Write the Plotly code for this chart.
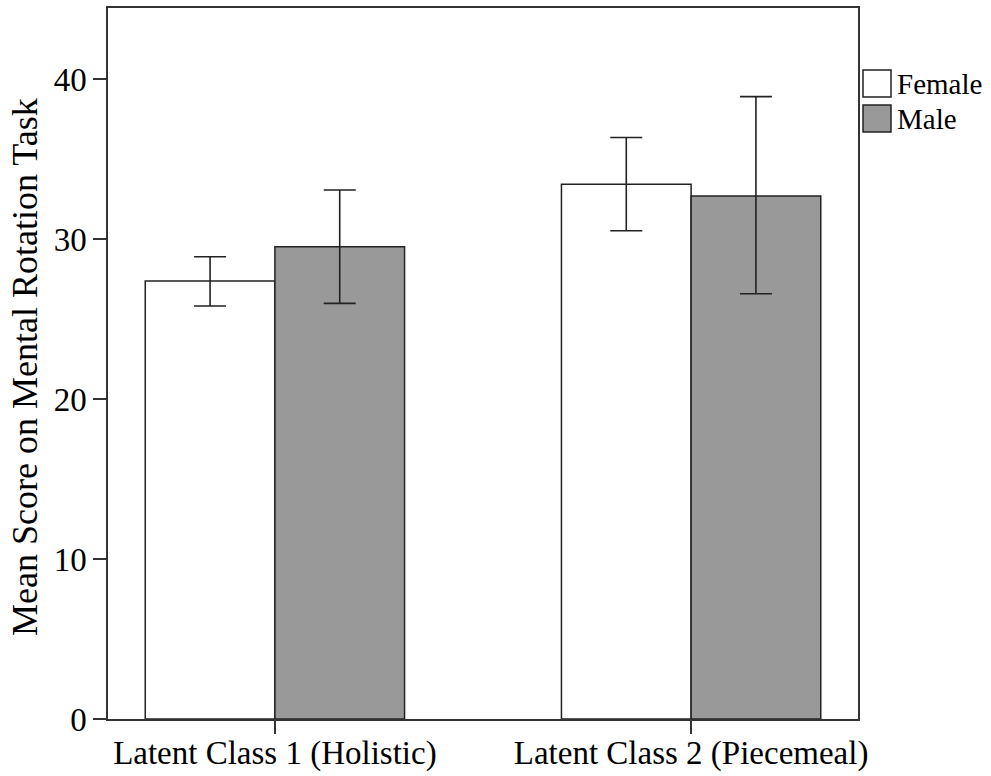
import plotly.graph_objects as go

# Mean mental rotation score by latent class and gender, with error bars
categories = ["Latent Class 1 (Holistic)", "Latent Class 2 (Piecemeal)"]
female_mean = [27.38, 33.42]
female_upper = [28.89, 36.35]
female_lower = [25.81, 30.52]
male_mean = [29.52, 32.69]
male_upper = [33.06, 38.90]
male_lower = [25.98, 26.58]
series_names = ["Female", "Male"]
y_ticks = [0, 10, 20, 30, 40]

FONT = "Liberation Serif, Times New Roman, serif"
LINE = "#333333"

W, H = 991, 776
L, R, T, B = 108, 133, 8, 57
plot_w = W - L - R
plot_h = H - T - B


def px_x(x):
    return (x - L) / plot_w


def px_y(y):
    return (H - B - y) / plot_h


def err(mean, upper, lower):
    return dict(
        type="data",
        array=[u - m for u, m in zip(upper, mean)],
        arrayminus=[m - l for m, l in zip(mean, lower)],
        color="#222222",
        thickness=1.6,
        width=16,
    )


fig = go.Figure()
fig.add_trace(go.Bar(
    x=categories, y=female_mean, name=series_names[0],
    marker=dict(color="#ffffff", line=dict(color="#222222", width=1.5)),
    error_y=err(female_mean, female_upper, female_lower),
    showlegend=False,
))
fig.add_trace(go.Bar(
    x=categories, y=male_mean, name=series_names[1],
    marker=dict(color="#999999", line=dict(color="#222222", width=1.5)),
    error_y=err(male_mean, male_upper, male_lower),
    showlegend=False,
))

# Legend drawn as boxes and labels to the right of the plot frame
legend_fills = ["#ffffff", "#999999"]
legend_tops = [70, 105]
shapes = []
annotations = []
for name, fill, top in zip(series_names, legend_fills, legend_tops):
    shapes.append(dict(
        type="rect", xref="paper", yref="paper",
        x0=px_x(863), x1=px_x(891), y0=px_y(top + 27), y1=px_y(top),
        fillcolor=fill, line=dict(color="#222222", width=1.5),
    ))
    annotations.append(dict(
        text=name, xref="paper", yref="paper",
        x=px_x(895), y=px_y(top + 14), xanchor="left", yanchor="middle",
        showarrow=False, font=dict(family=FONT, size=29, color="#000000"),
    ))

annotations.append(dict(
    text="Mean Score on Mental Rotation Task", xref="paper", yref="paper",
    x=px_x(25), y=px_y(367), xanchor="center", yanchor="middle",
    textangle=-90, showarrow=False,
    font=dict(family=FONT, size=36, color="#000000"),
))

fig.update_layout(
    width=W, height=H,
    margin=dict(l=L, r=R, t=T, b=B, autoexpand=False),
    paper_bgcolor="white", plot_bgcolor="white",
    barmode="group", bargap=0.377, bargroupgap=0,
    font=dict(family=FONT, color="#000000"),
    shapes=shapes, annotations=annotations,
    showlegend=False,
)
fig.update_xaxes(
    type="category", range=[-0.401, 1.401],
    showline=True, mirror=True, linecolor=LINE, linewidth=1.5,
    ticks="outside", ticklen=13, tickwidth=1.5, tickcolor=LINE,
    tickfont=dict(family=FONT, size=33, color="#000000"),
    ticklabelstandoff=-9,
    showgrid=False,
)
fig.update_yaxes(
    range=[0, 44.44], tickvals=y_ticks,
    showline=True, mirror=True, linecolor=LINE, linewidth=1.5,
    ticks="outside", ticklen=13, tickwidth=1.5, tickcolor=LINE,
    tickfont=dict(family=FONT, size=33, color="#000000"),
    showgrid=False, zeroline=False,
)

fig.write_html("out.html")
